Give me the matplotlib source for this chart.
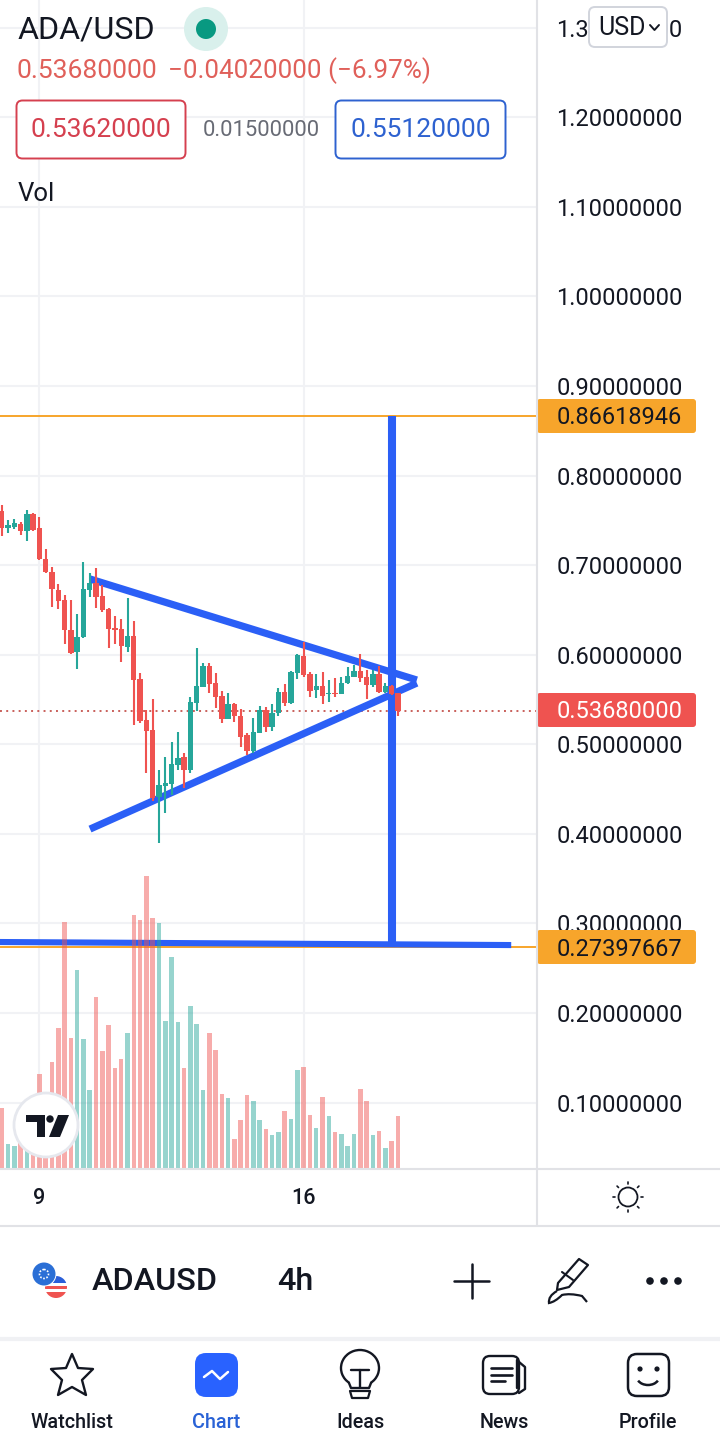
import matplotlib
matplotlib.use("Agg")
import matplotlib.pyplot as plt
from matplotlib.patches import Circle, FancyBboxPatch, Polygon, Rectangle, Arc, PathPatch
from matplotlib.path import Path

plt.rcParams['font.family'] = ['Roboto', 'DejaVu Sans']

# candles
opens = [0.7607, 0.7410, 0.7429, 0.7455, 0.7384, 0.7570, 0.7410, 0.7064, 0.6919, 0.6722, 0.6610, 0.6271, 0.6033, 0.6200, 0.6722, 0.6796,
         0.6655, 0.6509, 0.6294, 0.6282, 0.6089, 0.6208, 0.5728, 0.5270, 0.5158, 0.4414, 0.4537, 0.4556, 0.4771, 0.4861, 0.4712, 0.5464,
         0.5643, 0.5873, 0.5680, 0.5538, 0.5285, 0.5449, 0.5315, 0.5103, 0.4921, 0.5129, 0.5382, 0.5196, 0.5345, 0.5583, 0.5457, 0.5792,
         0.5985, 0.5780, 0.5605, 0.5650, 0.5561, 0.5576, 0.5561, 0.5680, 0.5747, 0.5818, 0.5754, 0.5658, 0.5780, 0.5579, 0.5650, 0.5568]
highs = [0.7671, 0.7503, 0.7511, 0.7484, 0.7615, 0.7585, 0.7540, 0.7176, 0.6975, 0.6785, 0.6662, 0.6610, 0.6454, 0.7034, 0.6908, 0.6963,
         0.6777, 0.6517, 0.6431, 0.6394, 0.6632, 0.6375, 0.5791, 0.5382, 0.5501, 0.4712, 0.4853, 0.5021, 0.5136, 0.4905, 0.5531, 0.6070,
         0.5911, 0.5911, 0.5792, 0.5594, 0.5568, 0.5457, 0.5390, 0.5122, 0.5289, 0.5427, 0.5412, 0.5449, 0.5624, 0.5672, 0.5821, 0.6007,
         0.6141, 0.5810, 0.5784, 0.5806, 0.5717, 0.5736, 0.5747, 0.5866, 0.5885, 0.6007, 0.5829, 0.5829, 0.5877, 0.5680, 0.5661, 0.5576]
lows = [0.7324, 0.7362, 0.7399, 0.7336, 0.7272, 0.7377, 0.7056, 0.6908, 0.6528, 0.6513, 0.6119, 0.6007, 0.5843, 0.6182, 0.6647, 0.6521,
        0.6480, 0.6078, 0.6119, 0.5921, 0.6033, 0.5214, 0.5233, 0.4682, 0.4369, 0.3901, 0.4235, 0.4433, 0.4712, 0.4507, 0.4682, 0.5374,
        0.5635, 0.5576, 0.5401, 0.5241, 0.5285, 0.5252, 0.4973, 0.4880, 0.4898, 0.5122, 0.5140, 0.5148, 0.5315, 0.5427, 0.5449, 0.5732,
        0.5754, 0.5524, 0.5512, 0.5449, 0.5475, 0.5531, 0.5561, 0.5672, 0.5747, 0.5698, 0.5505, 0.5643, 0.5576, 0.5568, 0.5550, 0.5315]
closes = [0.7410, 0.7447, 0.7466, 0.7380, 0.7570, 0.7391, 0.7068, 0.6919, 0.6729, 0.6602, 0.6271, 0.6014, 0.6193, 0.6729, 0.6796, 0.6647,
          0.6498, 0.6290, 0.6275, 0.6100, 0.6208, 0.5717, 0.5263, 0.5151, 0.4396, 0.4541, 0.4563, 0.4779, 0.4846, 0.4712, 0.5471, 0.5650,
          0.5873, 0.5672, 0.5531, 0.5285, 0.5449, 0.5315, 0.5084, 0.4924, 0.5137, 0.5382, 0.5189, 0.5345, 0.5583, 0.5457, 0.5810, 0.5993,
          0.5773, 0.5594, 0.5650, 0.5538, 0.5576, 0.5565, 0.5687, 0.5762, 0.5818, 0.5736, 0.5661, 0.5780, 0.5583, 0.5650, 0.5561, 0.5368]
# volume, arbitrary units
volumes = [60, 24, 22, 34, 21, 31, 94, 64, 106, 140, 246, 130, 198, 129, 78, 171,
           117, 143, 100, 109, 135, 253, 248, 292, 250, 245, 147, 211, 146, 100, 162, 144,
           78, 135, 118, 74, 70, 29, 48, 73, 67, 48, 39, 33, 36, 57, 49, 98,
           101, 53, 40, 71, 52, 36, 34, 22, 34, 79, 67, 33, 37, 20, 27, 52]

price_ticks = [0.1, 0.2, 0.3, 0.4, 0.5, 0.6, 0.7, 0.8, 0.9, 1.0, 1.1, 1.2, 1.3]
date_ticks = [6, 48]
date_labels = ['9', '16']
last_price = 0.5368
upper_level = 0.86618946
lower_level = 0.27397667

# hand drawn lines on the chart (bar index, price)
top_line_x, top_line_y = [14.04, 66.0], [0.6845, 0.5717]
bottom_line_x, bottom_line_y = [14.04, 66.0], [0.4053, 0.5683]
target_line_x, target_line_y = [62.05, 62.05], [0.8664, 0.2758]
base_line_x, base_line_y = [-0.3, 81.0], [0.2792, 0.2758]

RED = '#ef5350'
TEAL = '#26a69a'
BLUE = '#2b5ff6'
ORANGE = '#f7a52b'
GRID = '#f1f2f5'
LINE = '#e1e2e6'
DARK = '#131722'

W, H = 720, 1456
fig = plt.figure(figsize=(W / 100, H / 100), dpi=100, facecolor='white')

ax = fig.add_axes([0, 1 - 1168 / H, 537 / W, 1168 / H])
ax_vol = ax.twinx()
ax.set_xlim(-0.27, 85.1)
ax.set_ylim(0.0269, 1.3309)
ax_vol.set_ylim(0, 1168)
ax_vol.axis('off')

for s in ax.spines.values():
    s.set_visible(False)

ax.set_yticks(price_ticks)
ax.set_yticklabels([f'{p:.8f}' for p in price_ticks])
ax.yaxis.tick_right()
ax.tick_params(axis='y', length=0, pad=13.8, labelsize=17, labelcolor=DARK)
ax.set_xticks(date_ticks)
ax.set_xticklabels(date_labels, fontweight='medium')
ax.tick_params(axis='x', length=0, pad=14.5, labelsize=15.5, labelcolor=DARK)
ax.grid(True, color=GRID, linewidth=1.5, zorder=0)
ax.set_axisbelow(True)

# levels
ax.axhline(upper_level, color=ORANGE, lw=1.4, zorder=1)
ax.axhline(lower_level, color=ORANGE, lw=1.4, zorder=1)
ax.axhline(last_price, color='#c9605b', lw=1.4, ls=(0, (1, 2.2)), zorder=1)

# blue drawings go under the candles
for lx, ly, lw in [(top_line_x, top_line_y, 5.2), (bottom_line_x, bottom_line_y, 5.2),
                   (target_line_x, target_line_y, 5.8), (base_line_x, base_line_y, 4.4)]:
    ax.plot(lx, ly, color=BLUE, lw=lw, solid_capstyle='butt', zorder=2)

xs = list(range(len(opens)))
colors = [RED if c < o else TEAL for o, c in zip(opens, closes)]
ax.vlines(xs, lows, highs, colors=colors, lw=1.5, zorder=3)
ax.bar(xs, [abs(c - o) for o, c in zip(opens, closes)],
       bottom=[min(o, c) for o, c in zip(opens, closes)], width=0.86, color=colors, zorder=4)

ax_vol.bar(xs, volumes, width=0.72, color=colors, alpha=0.48, linewidth=0)

# everything else is app chrome, drawn in pixel coords
ui = fig.add_axes([0, 0, 1, 1])
ui.set_xlim(0, W)
ui.set_ylim(H, 0)
ui.axis('off')


def seg(xx, yy, color=DARK, lw=1.6, **kw):
    ui.plot(xx, yy, color=color, lw=lw, solid_capstyle=kw.pop('cap', 'round'), zorder=6, **kw)


def box(x0, y0, x1, y1, r, fc='white', ec='none', lw=1.5, z=3):
    ui.add_patch(FancyBboxPatch((x0 + r, y0 + r), x1 - x0 - 2 * r, y1 - y0 - 2 * r,
                                boxstyle=f'round,pad={r},rounding_size={r}', fc=fc, ec=ec, lw=lw, zorder=z))


def label(x, y, s, size, color=DARK, ha='left', weight='normal', z=5):
    ui.text(x, y, s, fontsize=size, color=color, ha=ha, va='center', fontweight=weight, zorder=z)


# separators
seg([537, 537], [0, 1226], color=LINE, lw=1.5, cap='butt')
seg([0, W], [1168.5, 1168.5], color=LINE, lw=1.5, cap='butt')
seg([0, W], [1226, 1226], color=LINE, lw=1.5, cap='butt')
seg([0, W], [1339, 1339], color='#f0f1f4', lw=3, cap='butt')

# header
label(18, 30, 'ADA/USD', 23.2)
ui.add_patch(Circle((206, 29), 22, fc='#d9f0ec', ec='none'))
ui.add_patch(Circle((206, 29), 10, fc='#089981', ec='none'))
label(16, 71, '0.53680000', 19, color='#e0605a')
label(168, 71, '\u22120.04020000 (\u22126.97%)', 18.7, color='#e0605a')
box(16.5, 100.5, 185.5, 158.5, 6, ec='#d5404f', lw=1.4)
label(101, 130, '0.53620000', 19, color='#d5404f', ha='center')
label(261, 131, '0.01500000', 15.8, color='#686b75', ha='center')
box(335.5, 100.5, 505.5, 158.5, 6, ec='#2e62d0', lw=1.4)
label(420.5, 130, '0.55120000', 19, color='#2e62d0', ha='center')
label(18, 194, 'Vol', 18.5)

# currency button
box(589, 7, 667, 47, 6, ec='#d1d4dc', lw=1.4)
label(598, 28, 'USD', 18)
seg([650, 654.5, 659], [25, 30, 25], lw=1.4)

# price tags
for top, fc, tc, s in [(399, ORANGE, DARK, '0.86618946'), (693, RED, 'white', '0.53680000'), (930, ORANGE, DARK, '0.27397667')]:
    box(537, top, 696, top + 34, 3, fc=fc)
    label(557, top + 19, s, 17, color=tc)

# tradingview badge
ui.add_patch(Circle((46, 1125), 32, fc='white', ec='#e6e8ee', lw=2, zorder=3))
ui.add_patch(Polygon([(26, 1115), (45, 1115), (45, 1137), (37, 1137), (37, 1122), (26, 1122)], fc=DARK, ec='none', zorder=4))
ui.add_patch(Circle((50, 1119), 3.7, fc=DARK, ec='none', zorder=4))
ui.add_patch(Polygon([(58, 1115), (69, 1115), (60, 1137), (49, 1137)], fc=DARK, ec='none', zorder=4))

# sun icon in the time scale
ui.add_patch(Circle((628, 1197), 9.5, fc='white', ec=DARK, lw=1.3))
for dx, dy in [(0, -13), (0, 13), (-13, 0), (13, 0), (-9.5, -9.5), (9.5, -9.5), (-9.5, 9.5), (9.5, 9.5)]:
    seg([628 + dx, 628 + dx * 1.15], [1197 + dy, 1197 + dy * 1.15], lw=1.2)

# symbol row
flag = Circle((56, 1287), 11, transform=ui.transData)
for y0, h, c in [(1276, 7, '#2b5fd9'), (1283, 3, 'white'), (1286, 3, '#ef5350'), (1289, 3, 'white'), (1292, 7, '#ef5350')]:
    r = Rectangle((44, y0), 24, h, fc=c, ec='none')
    ui.add_patch(r)
    r.set_clip_path(flag)
ui.add_patch(Circle((44, 1274), 12.5, fc='white', ec='none'))
ui.add_patch(Circle((44, 1274), 11.5, fc='#2b6fd6', ec='none'))
ui.add_patch(Circle((44, 1274), 4.5, fc='none', ec='white', lw=1.2, ls=(0, (1, 1))))
label(92, 1282, 'ADAUSD', 23.3, weight='medium')
label(277, 1282, '4h', 23.3, weight='medium')
seg([454, 489], [1281, 1281], lw=1.8)
seg([472, 472], [1264, 1298], lw=1.8)
ui.add_patch(Polygon([(558, 1283), (579, 1259), (588, 1265), (569, 1287), (557, 1290)], fc='none', ec=DARK, lw=1.6, joinstyle='round'))
seg([562, 573], [1272, 1280], lw=1.5)
ui.add_patch(PathPatch(Path([(557, 1291), (548, 1296), (549, 1303), (555, 1302), (562, 1295), (570, 1293), (582, 1296), (587, 1302)],
                            [Path.MOVETO, Path.CURVE3, Path.CURVE3, Path.CURVE3, Path.CURVE3, Path.CURVE3, Path.CURVE3, Path.LINETO]),
                       fc='none', ec=DARK, lw=1.6))
for x in [650, 664, 678]:
    ui.add_patch(Circle((x, 1281), 3.8, fc=DARK, ec='none'))

# tab bar
ui.add_patch(Polygon([(72, 1354), (78, 1368), (93, 1369), (82, 1380), (86, 1395), (72, 1387), (58, 1395), (62, 1380), (51, 1369), (66, 1368)],
                     fc='none', ec=DARK, lw=1.7, joinstyle='round'))
box(195, 1353, 238, 1397, 11, fc='#2962ff')
seg([204, 212, 220, 228], [1377, 1371, 1379, 1372], color='white', lw=1.8)
ui.add_patch(Arc((360, 1368), 38, 36, theta1=125, theta2=55, ec=DARK, lw=1.7))
seg([349, 351, 369, 371], [1383, 1388, 1388, 1383], lw=1.7)
seg([351, 369], [1370, 1370], lw=1.7)
seg([360, 360], [1370, 1387], lw=1.7)
ui.add_patch(Polygon([(350, 1391), (370, 1391), (368, 1398), (352, 1398)], fc='none', ec=DARK, lw=1.6, joinstyle='round'))
box(483, 1356, 519, 1394, 7, ec=DARK, lw=1.7, fc='none')
seg([519, 525, 525, 519], [1362, 1367, 1389, 1393], lw=1.7)
seg([517, 517], [1360, 1388], lw=1.7)
seg([491, 512], [1368, 1368], lw=1.9)
seg([491, 512], [1374.5, 1374.5], lw=1.9)
seg([491, 505], [1381, 1381], lw=1.9)
box(628, 1354, 669, 1396, 9, ec=DARK, lw=1.8, fc='none')
ui.add_patch(Circle((640, 1369), 2.6, fc=DARK, ec='none'))
ui.add_patch(Circle((657, 1369), 2.6, fc=DARK, ec='none'))
ui.add_patch(Arc((648, 1377), 22, 16, theta1=20, theta2=160, ec=DARK, lw=1.8))

for x, s, c in [(72, 'Watchlist', DARK), (216, 'Chart', '#2962d6'), (360, 'Ideas', DARK), (504, 'News', DARK), (648, 'Profile', DARK)]:
    label(x, 1423, s, 14.2, color=c, ha='center', weight='medium')

fig.savefig('out.png', dpi=100, facecolor='white')
